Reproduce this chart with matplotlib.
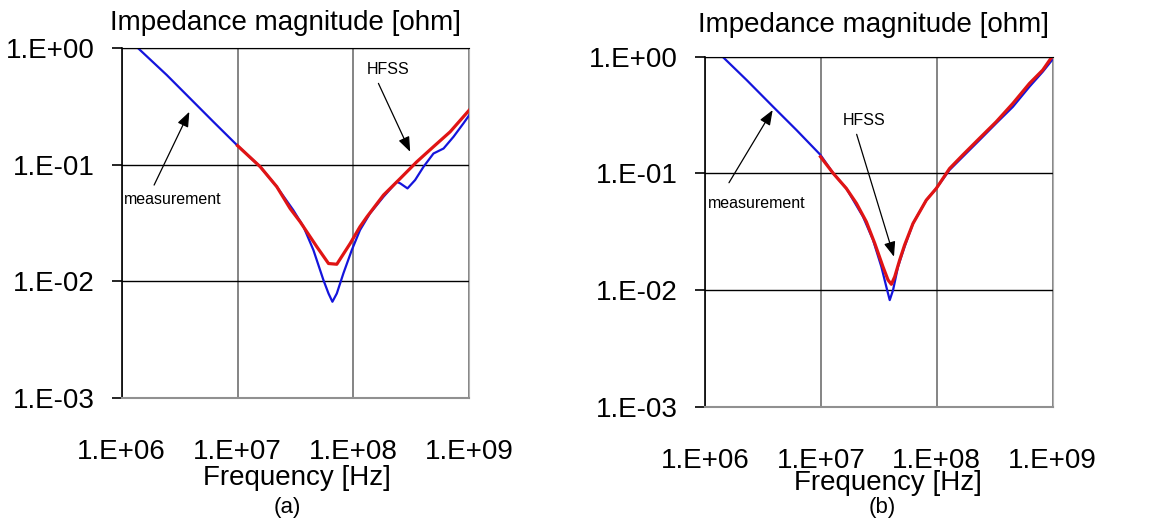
import matplotlib.pyplot as plt

plt.rcParams['font.family'] = ['Liberation Sans', 'DejaVu Sans']

# panel (a) measurement
a_meas_f = [1.39e6, 2.45e6, 3.89e6, 6.19e6, 1.0e7, 1.57e7, 2.18e7, 3.03e7, 3.71e7,
            4.52e7, 5.52e7, 6.10e7, 6.59e7, 7.19e7, 8.20e7, 9.68e7, 1.14e8, 1.39e8,
            1.82e8, 2.37e8, 2.54e8, 2.93e8, 3.41e8, 4.03e8, 4.91e8, 6.00e8, 7.31e8,
            8.91e8, 1.0e9]
a_meas_z = [1.0, 0.59, 0.372, 0.234, 0.146, 0.0962, 0.0649, 0.0408, 0.0294,
            0.0185, 0.0102, 0.00785, 0.00667, 0.00785, 0.0117, 0.0185, 0.0275, 0.0382,
            0.0532, 0.0714, 0.0692, 0.0627, 0.0740, 0.0962, 0.125, 0.138, 0.174,
            0.227, 0.267]

# panel (a) HFSS
a_hfss_f = [1.0e7, 1.57e7, 2.18e7, 2.84e7, 3.47e7, 4.83e7, 6.10e7, 7.19e7, 9.38e7,
            1.14e8, 1.31e8, 1.82e8, 2.54e8, 3.52e8, 4.91e8, 6.84e8, 1.0e9]
a_hfss_z = [0.146, 0.0962, 0.0649, 0.0422, 0.0324, 0.0198, 0.0142, 0.0140, 0.0211,
            0.0294, 0.0358, 0.0550, 0.0764, 0.106, 0.143, 0.192, 0.295]

# panel (b) measurement
b_meas_f = [1.42e6, 2.29e6, 3.88e6, 6.17e6, 9.93e6, 1.28e7, 1.66e7, 2.31e7, 2.82e7,
            3.33e7, 3.67e7, 3.93e7, 4.20e7, 4.63e7, 5.28e7, 6.24e7, 8.13e7, 9.91e7,
            1.29e8, 1.68e8, 2.34e8, 3.26e8, 4.54e8, 6.31e8, 8.22e8, 9.89e8]
b_meas_z = [1.0, 0.631, 0.372, 0.235, 0.144, 0.100, 0.0743, 0.0426, 0.0269,
            0.0158, 0.0107, 0.0082, 0.0100, 0.0158, 0.0235, 0.0372, 0.0590, 0.0743,
            0.107, 0.139, 0.193, 0.269, 0.372, 0.553, 0.743, 0.936]

# panel (b) HFSS
b_hfss_f = [9.93e6, 1.28e7, 1.66e7, 2.03e7, 2.47e7, 2.92e7, 3.44e7, 3.80e7, 4.06e7,
            4.34e7, 4.79e7, 5.28e7, 6.24e7, 8.13e7, 9.91e7, 1.29e8, 1.68e8, 2.34e8,
            3.26e8, 4.54e8, 6.31e8, 8.22e8, 9.89e8]
b_hfss_z = [0.139, 0.100, 0.0743, 0.0553, 0.0385, 0.0251, 0.0158, 0.0122, 0.0112,
            0.0130, 0.0181, 0.0243, 0.0372, 0.0590, 0.0743, 0.110, 0.144, 0.200,
            0.277, 0.398, 0.590, 0.769, 1.0]

x_ticks = [1e6, 1e7, 1e8, 1e9]
x_ticklabels = ['1.E+06', '1.E+07', '1.E+08', '1.E+09']
y_ticks = [1e-3, 1e-2, 1e-1, 1e0]
y_ticklabels = ['1.E-03', '1.E-02', '1.E-01', '1.E+00']

BLUE = '#1414dc'
RED = '#e01414'
W, H = 1151, 527

fig = plt.figure(figsize=(W / 100, H / 100), dpi=100)


def setup_axes(rect):
    ax = fig.add_axes(rect)
    ax.set_xscale('log')
    ax.set_yscale('log')
    ax.set_xlim(1e6, 1e9)
    ax.set_ylim(1e-3, 1e0)
    ax.set_xticks(x_ticks)
    ax.set_xticklabels(x_ticklabels)
    ax.set_yticks(y_ticks)
    ax.set_yticklabels(y_ticklabels)
    ax.minorticks_off()
    ax.tick_params(axis='x', length=0, pad=30, labelsize=20)
    ax.tick_params(axis='y', length=7.5, width=1.2, pad=12, labelsize=20, direction='out')
    ax.xaxis.grid(True, color='#707070', lw=1.2)
    ax.yaxis.grid(True, color='black', lw=1.0)
    ax.spines['left'].set_color('black')
    ax.spines['left'].set_linewidth(1.2)
    ax.spines['top'].set_color('black')
    ax.spines['bottom'].set_color('#909090')
    ax.spines['bottom'].set_linewidth(1.5)
    ax.spines['right'].set_color('#b0b0b0')
    ax.set_axisbelow(True)
    return ax


def px(x, y):
    return x / W, 1 - y / H


def note(ax, text, xy_text, xy_tail, xy_tip):
    ax.text(xy_text[0], xy_text[1], text, fontsize=11.5, ha='left', va='center')
    ax.annotate('', xy=xy_tip, xytext=xy_tail,
                arrowprops=dict(arrowstyle='-|>,head_length=0.9,head_width=0.35',
                                color='black', lw=0.9, shrinkA=0, shrinkB=0))


# ---- panel (a)
ax1 = setup_axes([0.1057, 0.2453, 0.302, 0.663])
ax1.plot(a_meas_f, a_meas_z, color=BLUE, lw=1.6)
ax1.plot(a_hfss_f, a_hfss_z, color=RED, lw=2.3)
note(ax1, 'measurement', (10**6.02, 10**-1.295), (10**6.28, 10**-1.174), (10**6.584, 10**-0.545))
note(ax1, 'HFSS', (10**8.116, 10**-0.186), (10**8.216, 10**-0.301), (10**8.49, 10**-0.888))

fig.text(*px(285, 23), 'Impedance magnitude [ohm]', fontsize=20, ha='center', va='center')
fig.text(*px(297, 478), 'Frequency [Hz]', fontsize=20, ha='center', va='center')
fig.text(*px(287, 508), '(a)', fontsize=16, ha='center', va='center')

# ---- panel (b)
ax2 = setup_axes([0.6125, 0.2283, 0.302, 0.664])
ax2.plot(b_meas_f, b_meas_z, color=BLUE, lw=1.6)
ax2.plot(b_hfss_f, b_hfss_z, color=RED, lw=2.3)
note(ax2, 'measurement', (10**6.028, 10**-1.256), (10**6.207, 10**-1.08), (10**6.584, 10**-0.457))
note(ax2, 'HFSS', (10**7.185, 10**-0.548), (10**7.309, 10**-0.665), (10**7.631, 10**-1.714))

fig.text(*px(873, 25), 'Impedance magnitude [ohm]', fontsize=20, ha='center', va='center')
fig.text(*px(888, 483), 'Frequency [Hz]', fontsize=20, ha='center', va='center')
fig.text(*px(882, 508), '(b)', fontsize=16, ha='center', va='center')

fig.savefig('out.png', dpi=100, facecolor='white')
